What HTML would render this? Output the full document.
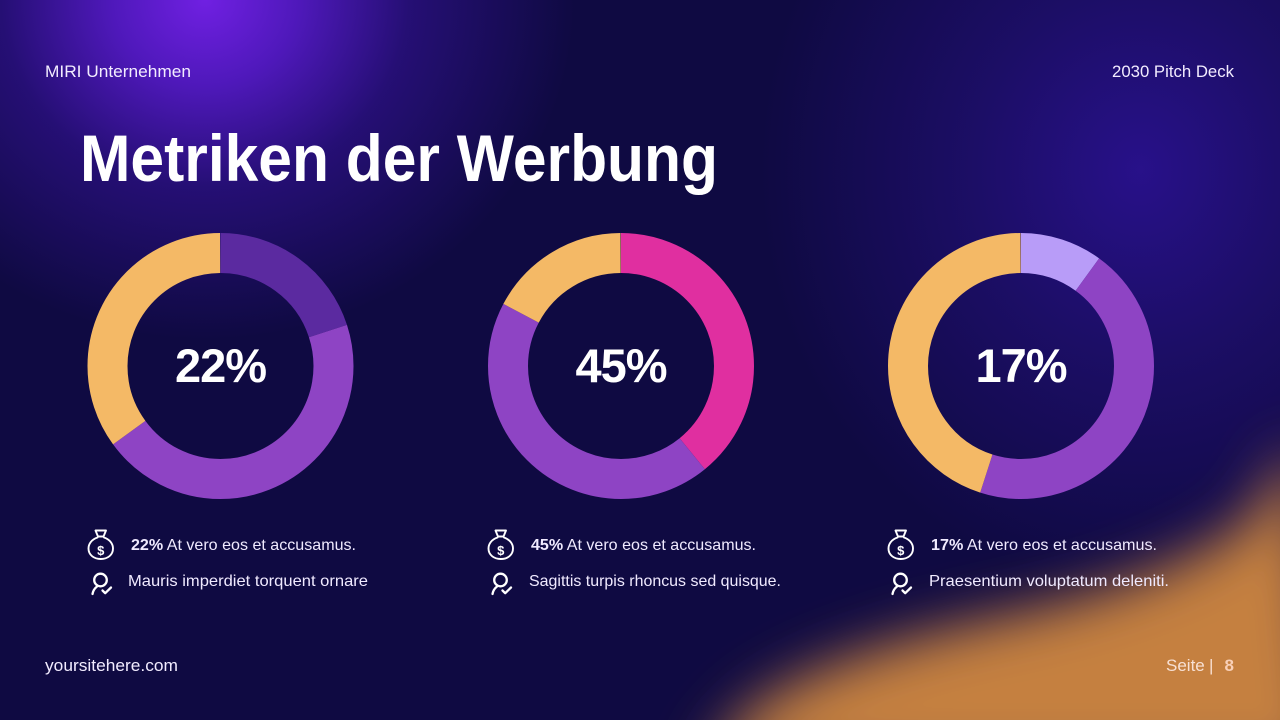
<!DOCTYPE html>
<html>
<head>
<meta charset="utf-8">
<style>
  html, body { margin:0; padding:0; width:1280px; height:720px; overflow:hidden; }
  body {
    position:relative;
    background:
      radial-gradient(ellipse 370px 340px at 205px 0px, rgba(112,32,226,1) 0%, rgba(86,26,200,0.9) 25%, rgba(52,18,150,0.6) 55%, rgba(20,10,80,0) 100%),
      radial-gradient(ellipse 380px 420px at 1140px 170px, rgba(44,18,150,0.85) 0%, rgba(36,16,124,0.6) 45%, rgba(20,10,80,0) 100%),
      #0f0a42;
    font-family: "Liberation Sans", sans-serif;
  }
  svg { position:absolute; left:0; top:0; overflow:hidden; display:block; }
</style>
</head>
<body>
<svg width="1280" height="720" viewBox="0 0 1280 720" xmlns="http://www.w3.org/2000/svg">
  <defs>
    <filter id="blur" x="-20%" y="-20%" width="140%" height="140%">
      <feGaussianBlur stdDeviation="28"/>
    </filter>
    <clipPath id="frame"><rect x="0" y="0" width="1280" height="720"/></clipPath>
  </defs>

  <!-- orange blob bottom-right -->
  <g clip-path="url(#frame)">
    <path d="M700 770 L745 715 Q805 660 995 618 Q1170 582 1250 520 L1300 440 L1330 770 Z" fill="#c5803f" filter="url(#blur)"/>
  </g>

  <!-- header -->
  <text x="45" y="77" font-size="17" fill="#f2ecff" textLength="146" lengthAdjust="spacingAndGlyphs">MIRI Unternehmen</text>
  <text x="1112" y="77" font-size="17" fill="#f2ecff" textLength="122" lengthAdjust="spacingAndGlyphs">2030 Pitch Deck</text>

  <!-- title -->
  <text x="80" y="181" font-size="66" font-weight="bold" fill="#ffffff" textLength="638" lengthAdjust="spacingAndGlyphs">Metriken der Werbung</text>

  <!-- Donut 1 -->
  <g transform="rotate(-90 220.5 366)" fill="none" stroke-width="40">
    <circle cx="220.5" cy="366" r="113" pathLength="360" stroke="#5b2aa0" stroke-dasharray="72 360" stroke-dashoffset="0"/>
    <circle cx="220.5" cy="366" r="113" pathLength="360" stroke="#8e44c4" stroke-dasharray="162 360" stroke-dashoffset="-72"/>
    <circle cx="220.5" cy="366" r="113" pathLength="360" stroke="#f4b966" stroke-dasharray="126 360" stroke-dashoffset="-234"/>
  </g>
  <text x="220.5" y="382" font-size="47" font-weight="bold" fill="#ffffff" text-anchor="middle" letter-spacing="-1">22%</text>

  <!-- Donut 2 -->
  <g transform="rotate(-90 621 366)" fill="none" stroke-width="40">
    <circle cx="621" cy="366" r="113" pathLength="360" stroke="#e02fa0" stroke-dasharray="141 360" stroke-dashoffset="0"/>
    <circle cx="621" cy="366" r="113" pathLength="360" stroke="#8e44c4" stroke-dasharray="157 360" stroke-dashoffset="-141"/>
    <circle cx="621" cy="366" r="113" pathLength="360" stroke="#f4b966" stroke-dasharray="62 360" stroke-dashoffset="-298"/>
  </g>
  <text x="621" y="382" font-size="47" font-weight="bold" fill="#ffffff" text-anchor="middle" letter-spacing="-1">45%</text>

  <!-- Donut 3 -->
  <g transform="rotate(-90 1021 366)" fill="none" stroke-width="40">
    <circle cx="1021" cy="366" r="113" pathLength="360" stroke="#b89cf8" stroke-dasharray="36 360" stroke-dashoffset="0"/>
    <circle cx="1021" cy="366" r="113" pathLength="360" stroke="#8e44c4" stroke-dasharray="162 360" stroke-dashoffset="-36"/>
    <circle cx="1021" cy="366" r="113" pathLength="360" stroke="#f4b966" stroke-dasharray="162 360" stroke-dashoffset="-198"/>
  </g>
  <text x="1021" y="382" font-size="47" font-weight="bold" fill="#ffffff" text-anchor="middle" letter-spacing="-1">17%</text>

  <!-- Bullet icons -->
  <g id="col1">
    <!-- money bag -->
    <g fill="none" stroke="#ffffff" stroke-width="1.9" stroke-linejoin="round" stroke-linecap="round">
      <path d="M95.5 530.5 L106 530.5 L103.5 536.5 L98 536.5 Z"/>
      <path d="M97.5 537.5 C91.5 539.5 88.5 544 88.5 548.5 C88.5 555 94 559 100.8 559 C107.6 559 113 555 113 548.5 C113 544 110 539.5 104 537.5"/>
    </g>
    <text x="100.8" y="555" font-size="13" font-weight="bold" fill="#ffffff" text-anchor="middle">$</text>
    <!-- award icon -->
    <g fill="none" stroke="#ffffff" stroke-width="2.3" stroke-linecap="round" stroke-linejoin="round">
      <circle cx="100.5" cy="580" r="6.3"/>
      <path d="M97 586.5 C94.5 588.5 93 591 92.5 594"/>
      <path d="M102.5 590.5 L105.2 593.2 L111 587.5"/>
    </g>
  </g>
  <use href="#col1" transform="translate(400,0)"/>
  <use href="#col1" transform="translate(800,0)"/>

  <g font-size="16" fill="#f0eaff">
    <text x="131" y="550" textLength="225" lengthAdjust="spacingAndGlyphs"><tspan font-weight="bold">22%</tspan> At vero eos et accusamus.</text>
    <text x="128" y="586" textLength="240" lengthAdjust="spacingAndGlyphs">Mauris imperdiet torquent ornare</text>
    <text x="531" y="550" textLength="225" lengthAdjust="spacingAndGlyphs"><tspan font-weight="bold">45%</tspan> At vero eos et accusamus.</text>
    <text x="529" y="586" textLength="252" lengthAdjust="spacingAndGlyphs">Sagittis turpis rhoncus sed quisque.</text>
    <text x="931" y="550" textLength="226" lengthAdjust="spacingAndGlyphs"><tspan font-weight="bold">17%</tspan> At vero eos et accusamus.</text>
    <text x="929" y="586" textLength="240" lengthAdjust="spacingAndGlyphs">Praesentium voluptatum deleniti.</text>
  </g>

  <!-- footer -->
  <text x="45" y="671" font-size="17" fill="#f2ecff" textLength="133" lengthAdjust="spacingAndGlyphs">yoursitehere.com</text>
  <text x="1166" y="671" font-size="17" fill="#f8e0d4">Seite</text>
  <text x="1209" y="671" font-size="17" fill="#f8e0d4">|</text>
  <text x="1234" y="671" font-size="17" font-weight="bold" fill="#f9d0b8" text-anchor="end">8</text>
</svg>
</body>
</html>
